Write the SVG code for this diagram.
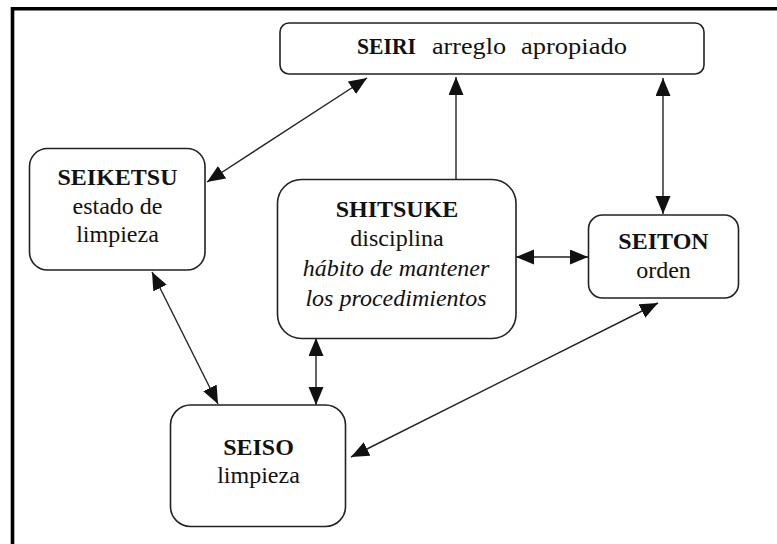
<svg xmlns="http://www.w3.org/2000/svg" width="777" height="544" viewBox="0 0 777 544">
<style>
.box{fill:#fff;stroke:#222;stroke-width:1.6}
.t{font-family:"Liberation Serif","Times New Roman",serif;font-size:24px;fill:#111;text-anchor:middle}
.s{text-anchor:start}
.b{font-weight:bold}
.i{font-style:italic}
.c{fill:none;stroke:#222;stroke-width:1.4}
</style>
<defs>
<marker id="ah" markerUnits="userSpaceOnUse" markerWidth="19" markerHeight="16" refX="18" refY="7.5" orient="auto-start-reverse">
<path d="M0,0 L18,7.5 L0,15 z" fill="#111"/>
</marker>
</defs>
<rect width="777" height="544" fill="#fff"/>
<path d="M12.5,544 V8.7 H777" fill="none" stroke="#000" stroke-width="3.6"/>
<g id="connectors">
<line class="c" x1="207" y1="182" x2="367" y2="78" marker-start="url(#ah)" marker-end="url(#ah)"/>
<line class="c" x1="456" y1="180" x2="456" y2="77" marker-end="url(#ah)"/>
<line class="c" x1="663" y1="78" x2="663" y2="214" marker-start="url(#ah)" marker-end="url(#ah)"/>
<line class="c" x1="516" y1="257" x2="588" y2="257" marker-start="url(#ah)" marker-end="url(#ah)"/>
<line class="c" x1="152" y1="272" x2="218" y2="404" marker-start="url(#ah)" marker-end="url(#ah)"/>
<line class="c" x1="316" y1="338" x2="316" y2="405" marker-start="url(#ah)" marker-end="url(#ah)"/>
<line class="c" x1="658" y1="303" x2="351" y2="457" marker-start="url(#ah)" marker-end="url(#ah)"/>
</g>
<g id="seiri">
<rect class="box" x="280" y="23" width="424" height="51" rx="9"/>
<text class="t b s" x="357" y="54" textLength="59" lengthAdjust="spacingAndGlyphs">SEIRI</text>
<text class="t s" x="432" y="54" textLength="74" lengthAdjust="spacingAndGlyphs">arreglo</text>
<text class="t s" x="521" y="54" textLength="106" lengthAdjust="spacingAndGlyphs">apropiado</text>
</g>
<g id="seiketsu">
<rect class="box" x="29.5" y="148.5" width="175.5" height="121.5" rx="18"/>
<text class="t b" x="117.5" y="185">SEIKETSU</text>
<text class="t" x="117.5" y="214">estado de</text>
<text class="t" x="117.5" y="242">limpieza</text>
</g>
<g id="shitsuke">
<rect class="box" x="277.5" y="179.5" width="238.5" height="159" rx="24"/>
<text class="t b" x="397" y="216.5">SHITSUKE</text>
<text class="t" x="397" y="246">disciplina</text>
<text class="t i" x="396" y="276">hábito de mantener</text>
<text class="t i" x="396" y="306">los procedimientos</text>
</g>
<g id="seiton">
<rect class="box" x="588.5" y="215" width="150" height="83" rx="14"/>
<text class="t b" x="663.5" y="249">SEITON</text>
<text class="t" x="663.5" y="278">orden</text>
</g>
<g id="seiso">
<rect class="box" x="170.5" y="405" width="175" height="121.5" rx="20"/>
<text class="t b" x="258.5" y="455">SEISO</text>
<text class="t" x="258.5" y="482.5">limpieza</text>
</g>
</svg>
